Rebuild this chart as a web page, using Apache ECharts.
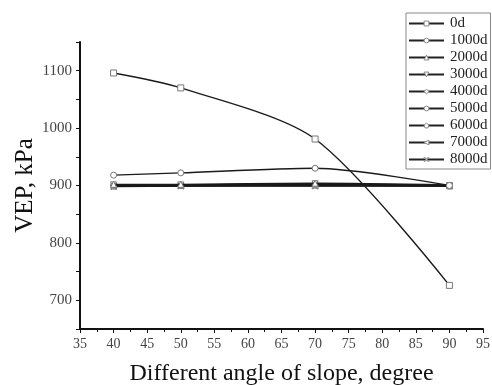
<!DOCTYPE html>
<html>
<head>
<meta charset="utf-8">
<script src="https://cdn.jsdelivr.net/npm/echarts@6/dist/echarts.min.js"></script>
<style>
  html, body { margin: 0; padding: 0; background: #fff; }
  #chart { width: 492px; height: 385px; }
</style>
</head>
<body>
<div id="chart"></div>
<script>
// slope angles (degree)
const angles = [40, 50, 70, 90];
const seriesNames = ['0d', '1000d', '2000d', '3000d', '4000d', '5000d', '6000d', '7000d', '8000d'];

// VEP, kPa for each time step
const vep0d    = [1096, 1070, 981, 726];
const vep1000d = [918, 922, 930, 900];
const vep2000d = [902, 902, 904, 901];
const vep3000d = [901, 901, 903, 900];
const vep4000d = [900, 901, 902, 900];
const vep5000d = [900, 900, 901, 900];
const vep6000d = [899, 900, 901, 899];
const vep7000d = [899, 899, 900, 899];
const vep8000d = [898, 899, 899, 899];

const xTicks = [35, 95, 5];      // min, max, step
const yTicks = [650, 1150, 50];  // min, max, step (labels every 100)

const allData = [vep0d, vep1000d, vep2000d, vep3000d, vep4000d, vep5000d, vep6000d, vep7000d, vep8000d];

const symbols = [
    'rect',
    'circle',
    'triangle',
    'path://M0,0 L10,0 L5,9 Z',
    'diamond',
    'circle',
    'path://M5,0 L10,4 L8,10 L2,10 L0,4 Z',
    'path://M0,5 L9,0 L9,10 Z',
    'path://M0,1 L1,0 L5,4 L9,0 L10,1 L6,5 L10,9 L9,10 L5,6 L1,10 L0,9 L4,5 Z'
];

const serif = '"Liberation Serif", "DejaVu Serif", serif';

const series = seriesNames.map((name, i) => {
    return {
        name,
        type: 'line',
        smooth: 0.28,
        data: angles.map((a, k) => [a, allData[i][k]]),
        symbol: symbols[i],
        symbolSize: 6,
        showSymbol: true,
        lineStyle: { color: '#1a1a1a', width: 1.4 },
        itemStyle: {
            color: i === 8 ? '#666' : '#fff',
            borderColor: '#777',
            borderWidth: 1
        },
        z: 10 - i
    };
});

const myChart = echarts.init(document.getElementById('chart'), null, { renderer: 'canvas' });

const option = {
    animation: false,
    backgroundColor: '#fff',
    textStyle: { fontFamily: serif },
    grid: {
        left: 80,
        right: 9,
        top: 42,
        bottom: 56,
        containLabel: false,
        outerBoundsMode: 'none'
    },
    legend: {
        orient: 'vertical',
        left: 406,
        top: 13,
        padding: [3, 3, 2, 2],
        itemWidth: 35,
        itemHeight: 6,
        itemGap: 2,
        borderColor: '#888',
        borderWidth: 1,
        backgroundColor: '#fff',
        itemStyle: {
            color: '#fff',
            borderColor: '#888',
            borderWidth: 1
        },
        lineStyle: { color: '#222', width: 2 },
        textStyle: {
            fontFamily: serif,
            fontSize: 15,
            lineHeight: 15,
            color: '#222',
            padding: [0, 0, 0, 1]
        },
        data: seriesNames
    },
    xAxis: {
        type: 'value',
        min: xTicks[0],
        max: xTicks[1],
        interval: xTicks[2],
        name: 'Different angle of slope, degree',
        nameLocation: 'middle',
        nameGap: 33,
        nameMoveOverlap: false,
        nameTextStyle: { fontFamily: serif, fontSize: 24, color: '#111' },
        axisLine: { onZero: false, lineStyle: { color: '#111', width: 2 } },
        axisTick: { show: true, length: 4, lineStyle: { color: '#111', width: 1 } },
        minorTick: { show: true, splitNumber: 2, length: 3, lineStyle: { color: '#111', width: 1 } },
        splitLine: { show: false },
        axisLabel: { fontFamily: serif, fontSize: 14, color: '#444', margin: 8 }
    },
    yAxis: {
        type: 'value',
        min: yTicks[0],
        max: yTicks[1],
        interval: yTicks[2],
        name: 'VEP, kPa',
        nameLocation: 'middle',
        nameGap: 42,
        nameMoveOverlap: false,
        nameTextStyle: { fontFamily: serif, fontSize: 25, color: '#111' },
        axisLine: { show: true, onZero: false, lineStyle: { color: '#111', width: 2 } },
        axisTick: { show: true, length: 4, lineStyle: { color: '#111', width: 1 } },
        splitLine: { show: false },
        axisLabel: {
            fontFamily: serif,
            fontSize: 15,
            color: '#444',
            margin: 8,
            formatter: (v) => (v % 100 === 0 && v > yTicks[0] && v < yTicks[1]) ? String(v) : ''
        }
    },
    series
};

myChart.setOption(option);
</script>
</body>
</html>
